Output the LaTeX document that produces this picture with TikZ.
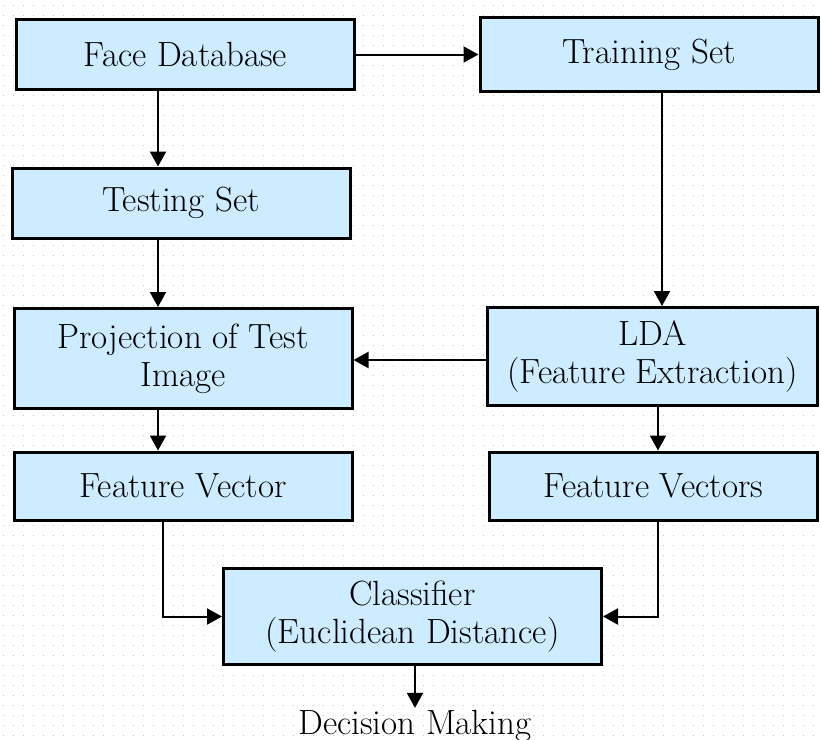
\documentclass[tikz,border=0pt]{standalone}
\usetikzlibrary{positioning,arrows.meta,patterns.meta}

\definecolor{boxblue}{RGB}{206,236,255}

\tikzdeclarepattern{
  name=bgdots,
  type=uncolored,
  bounding box={(0,0) and (5pt,5pt)},
  tile size={(5pt,5pt)},
  code={\fill (2.5pt,2.5pt) circle (0.35pt);}
}

\tikzset{
  block/.style={draw=black,line width=1.5pt,fill=boxblue,rectangle,
    minimum width=169pt,minimum height=35pt,align=center,inner sep=2pt,
    font=\fontsize{17.5}{19}\selectfont},
  arr/.style={line width=1pt,-{Triangle[width=8pt,length=7.5pt]}}
}

\begin{document}
\begin{tikzpicture}[x=0.5pt,y=-0.5pt]

          % page and dotted background
          \useasboundingbox (0,0) rectangle (821,740);
          \fill[white] (0,0) rectangle (821,740);
          \fill[pattern=bgdots,pattern color=gray!45] (0,0) rectangle (821,740);

          % left column
          \node[block] (facedb) at (185.5,54.5) {Face Database};
          \node[block] (testing) at (181,203) {Testing Set};
          \node[block,minimum height=50pt] (projection) at (183,358.5)
              {Projection of Test\\Image};
          \node[block,minimum height=34pt] (fvec) at (183,486) {Feature Vector};

          % right column
          \node[block,minimum height=37pt] (training) at (649,54.5) {Training Set};
          \node[block,minimum width=165pt,minimum height=49pt] (lda) at (652.5,356.5)
              {LDA\\(Feature Extraction)};
          \node[block,minimum width=164pt,minimum height=34pt] (fvecs) at (653.5,486)
              {Feature Vectors};

          % classifier and result
          \node[block,minimum width=189pt,minimum height=48pt] (classifier) at (412.5,616.5)
              {Classifier\\(Euclidean Distance)};
          \node[inner sep=1pt,font=\fontsize{17.5}{19}\selectfont] (decision) at (415,726)
              {Decision Making};

          % connectors
          \draw[arr] (facedb.east) -- (training.west);
          \draw[arr] ([xshift=-13.75pt]facedb.south) -- ([xshift=-13.75pt]facedb.south |- testing.north);
          \draw[arr] ([xshift=-11.5pt]testing.south) -- ([xshift=-11.5pt]testing.south |- projection.north);
          \draw[arr] ([xshift=6.5pt]training.south) -- ([xshift=6.5pt]training.south |- lda.north);
          \draw[arr] ([yshift=-1.75pt]lda.west) -- ([yshift=-1.75pt]lda.west -| projection.east);
          \draw[arr] ([xshift=-12.5pt]projection.south) -- ([xshift=-12.5pt]projection.south |- fvec.north);
          \draw[arr] ([xshift=2.75pt]lda.south) -- ([xshift=2.75pt]lda.south |- fvecs.north);
          \draw[arr] ([xshift=-10pt]fvec.south) |- (classifier.west);
          \draw[arr] ([xshift=2.25pt]fvecs.south) |- (classifier.east);
          \draw[arr] (decision.north |- classifier.south) -- (decision.north);

\end{tikzpicture}
\end{document}
